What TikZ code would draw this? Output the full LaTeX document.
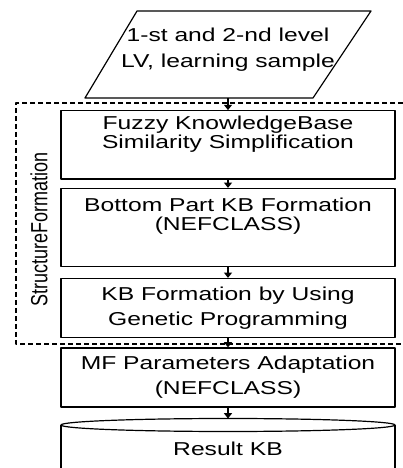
\documentclass[tikz,border=0pt]{standalone}
\usepackage{fontspec}
\usepackage{graphicx}
\setmainfont{Liberation Sans}[FakeStretch=1.32]
\newfontfamily\sidefont{Liberation Sans}
\usetikzlibrary{arrows.meta}

\begin{document}
\begin{tikzpicture}[x=0.75pt, y=0.75pt, line join=round,
    txt/.style={align=center, inner sep=2pt, font=\fontsize{14}{18.5}\selectfont},
    tight/.style={font=\fontsize{14}{14.8}\selectfont},
    stage/.style={txt, draw, line width=0.9pt, minimum width=250.5pt},
    flow/.style={-{Triangle[length=4pt,width=6pt]}, line width=0.9pt},
    group/.style={dash pattern=on 3.75pt off 2.25pt, line width=0.8pt}]

    \useasboundingbox (0,0) rectangle (403,468);

    % input data
    \draw[line width=0.9pt] (85,370) -- (313,370) -- (371,457) -- (137,457) -- cycle;
    \node[txt, font=\fontsize{14}{19.5}\selectfont] (input) at (228,418) {1-st and 2-nd level\\LV, learning sample};
    \coordinate (inbottom) at (228,370);

    % processing stages
    \node[stage, tight, minimum height=51.2pt, text depth=19pt]
        (simplify) at (228,323.15) {Fuzzy KnowledgeBase\\Similarity Simplification};
    \node[stage, tight, minimum height=58.5pt, text depth=20pt]
        (bottom) at (228,240.5) {Bottom Part KB Formation\\(NEFCLASS)};
    \node[stage, minimum height=44.25pt]
        (genetic) at (228,160) {KB Formation by Using\\Genetic Programming};
    \node[stage, minimum height=44.25pt]
        (adapt) at (228,90.5) {MF Parameters Adaptation\\(NEFCLASS)};

    % result store
    \draw[line width=0.9pt] (228,43) ellipse [x radius=167, y radius=6.5];
    \draw[line width=0.9pt] (61,43) -- (61,0) (395,43) -- (395,0);
    \coordinate (kbtop) at (228,49.5);
    \node[txt] (result) at (228,19) {Result KB};

    % structure formation group
    \draw[group] (403,365) -- (16,365) -- (16,124) -- (403,124);
    \node[inner sep=0pt] (structlabel) at (39,238.5)
        {\scalebox{1.3}[1]{\rotatebox{90}{\fontsize{13.5}{16}\sidefont StructureFormation}}};

    % connectors
    \draw[flow] (inbottom) -- (simplify.north);
    \draw[flow] (simplify.south) -- (bottom.north);
    \draw[flow] (bottom.south) -- (genetic.north);
    \draw[flow] (genetic.south) -- (adapt.north);
    \draw[flow] (adapt.south) -- (kbtop);

\end{tikzpicture}
\end{document}
